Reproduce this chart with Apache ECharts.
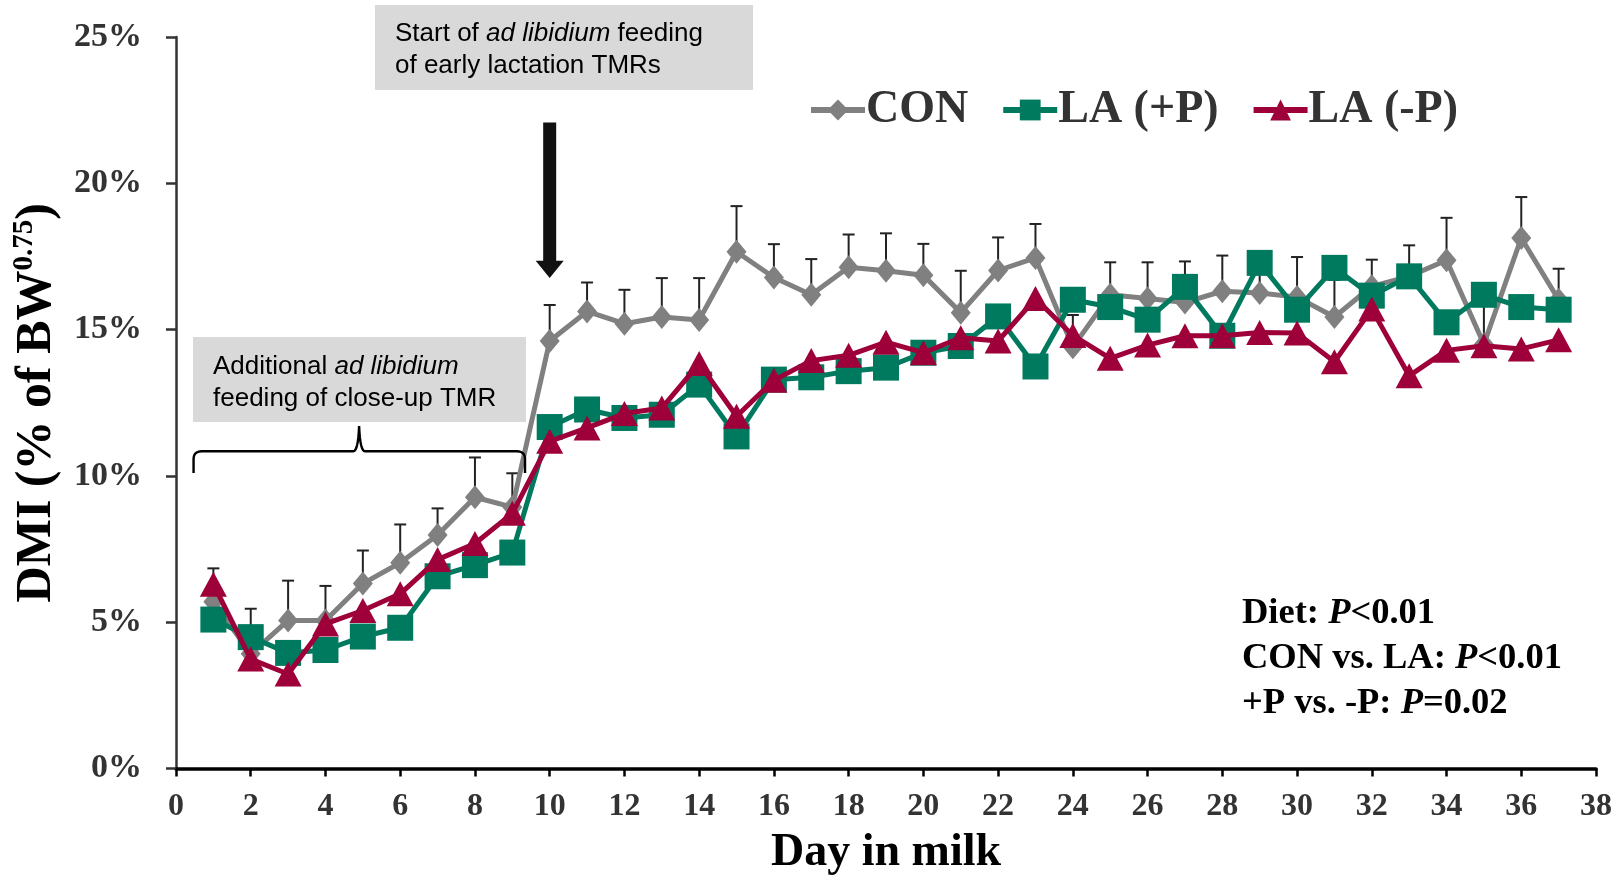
<!DOCTYPE html>
<html>
<head>
<meta charset="utf-8">
<script src="https://cdn.jsdelivr.net/npm/echarts@6/dist/echarts.min.js"></script>
<style>
  html, body { margin: 0; padding: 0; background: #fff; }
  #chart { width: 1624px; height: 877px; }
</style>
</head>
<body>
<div id="chart"></div>
<script>
// Day in milk
const days = [1, 2, 3, 4, 5, 6, 7, 8, 9, 10, 11, 12, 13, 14, 15, 16, 17, 18, 19,
  20, 21, 22, 23, 24, 25, 26, 27, 28, 29, 30, 31, 32, 33, 34, 35, 36, 37];

// DMI, % of BW^0.75
const conMean = [5.70, 3.92, 5.06, 5.06, 6.32, 7.03, 7.98, 9.27, 8.93, 14.61, 15.62, 15.20, 15.43,
  15.33, 17.66, 16.78, 16.19, 17.13, 17.01, 16.86, 15.58, 17.02, 17.45, 14.40, 16.19, 16.06,
  15.93, 16.31, 16.25, 16.11, 15.43, 16.48, 16.82, 17.37, 14.50, 18.13, 16.02];
const conSE = [1.14, 1.54, 1.36, 1.18, 1.13, 1.31, 0.91, 1.36, 1.16, 1.23, 0.99, 1.16, 1.33,
  1.43, 1.56, 1.14, 1.22, 1.12, 1.28, 1.07, 1.43, 1.13, 1.16, 1.10, 1.11, 1.24,
  1.40, 1.22, 1.05, 1.37, 1.27, 0.91, 1.06, 1.45, 1.50, 1.40, 1.06];
const laPlusP = [5.09, 4.49, 3.95, 4.05, 4.51, 4.81, 6.57, 6.95, 7.38, 11.67, 12.27, 11.98, 12.09,
  13.12, 11.35, 13.29, 13.37, 13.58, 13.70, 14.21, 14.44, 15.45, 13.74, 16.02, 15.77, 15.34,
  16.46, 14.79, 17.28, 15.68, 17.11, 16.16, 16.82, 15.25, 16.19, 15.77, 15.68];
const laMinusP = [6.30, 3.74, 3.23, 4.94, 5.40, 5.97, 7.14, 7.69, 8.72, 11.18, 11.64, 12.13, 12.32,
  13.84, 12.04, 13.27, 13.94, 14.12, 14.57, 14.21, 14.72, 14.61, 16.06, 14.80, 14.02, 14.47,
  14.79, 14.79, 14.90, 14.88, 13.90, 15.70, 13.42, 14.29, 14.45, 14.34, 14.65];

const seriesNames = ['CON', 'LA (+P)', 'LA (-P)'];
const statLines = [
  ['Diet: ', 'P', '<0.01'],
  ['CON vs. LA: ', 'P', '<0.01'],
  ['+P vs. -P: ', 'P', '=0.02']
];

const SERIF = '"Liberation Serif", "Times New Roman", serif';
const SANS = '"Liberation Sans", Arial, sans-serif';
const C_GRAY = '#808080', C_GREEN = '#007A5E', C_RED = '#9E0039';

const pairs = arr => days.map((d, i) => [d, arr[i]]);

const chart = echarts.init(document.getElementById('chart'));

const option = {
  animation: false,
  backgroundColor: '#fff',
  grid: { left: 176, right: 28, top: 37, bottom: 108.5, containLabel: false, outerBoundsMode: 'none' },
  legend: {
    left: 803, top: 82,
    itemWidth: 54, itemHeight: 26, itemGap: 32,
    data: seriesNames,
    lineStyle: { width: 6 },
    textStyle: { fontFamily: SERIF, fontWeight: 'bold', fontSize: 46, color: '#333', padding: [0, 0, 0, -4] }
  },
  xAxis: {
    type: 'value', min: 0, max: 38, interval: 2,
    axisLine: { show: true, onZero: false, lineStyle: { color: '#000', width: 3.5 } },
    axisTick: { show: true, length: 8, lineStyle: { color: '#000', width: 2.5 } },
    axisLabel: { margin: 22, fontFamily: SERIF, fontWeight: 'bold', fontSize: 32, color: '#333' },
    splitLine: { show: false },
    name: 'Day in milk', nameLocation: 'middle', nameGap: 62,
    nameTextStyle: { fontFamily: SERIF, fontWeight: 'bold', fontSize: 46, color: '#000' }
  },
  yAxis: {
    type: 'value', min: 0, max: 25, interval: 5,
    axisLine: { show: true, lineStyle: { color: '#333', width: 2.5 } },
    axisTick: { show: true, length: 10, lineStyle: { color: '#333', width: 2.5 } },
    axisLabel: { margin: 34, formatter: '{value}%', fontFamily: SERIF, fontWeight: 'bold', fontSize: 34, color: '#333' },
    splitLine: { show: false },
    name: '{a|DMI (% of BW}{s|0.75}{a|)}', nameLocation: 'middle', nameGap: 112,
    nameTextStyle: {
      rich: {
        a: { fontFamily: SERIF, fontWeight: 'bold', fontSize: 50, color: '#000', lineHeight: 54 },
        s: { fontFamily: SERIF, fontWeight: 'bold', fontSize: 29, color: '#000', verticalAlign: 'top', lineHeight: 54 }
      }
    }
  },
  series: [
    {
      // upper standard-error bars for the control diet
      type: 'custom', name: 'CON SE', z: 1, silent: true,
      data: days.map((d, i) => [d, conMean[i], conMean[i] + conSE[i]]),
      renderItem: (params, api) => {
        const base = api.coord([api.value(0), api.value(1)]);
        const top = api.coord([api.value(0), api.value(2)]);
        const cap = 6;
        const style = { stroke: '#222', lineWidth: 2 };
        return {
          type: 'group',
          children: [
            { type: 'line', shape: { x1: base[0], y1: base[1], x2: top[0], y2: top[1] }, style },
            { type: 'line', shape: { x1: top[0] - cap, y1: top[1], x2: top[0] + cap, y2: top[1] }, style }
          ]
        };
      }
    },
    {
      name: 'CON', type: 'line', z: 2, data: pairs(conMean),
      symbol: 'diamond', symbolSize: [20, 24],
      itemStyle: { color: C_GRAY },
      lineStyle: { color: C_GRAY, width: 5 }
    },
    {
      name: 'LA (+P)', type: 'line', z: 3, data: pairs(laPlusP),
      symbol: 'rect', symbolSize: 26,
      itemStyle: { color: C_GREEN },
      lineStyle: { color: C_GREEN, width: 5 }
    },
    {
      name: 'LA (-P)', type: 'line', z: 4, data: pairs(laMinusP),
      symbol: 'triangle', symbolSize: [27, 25],
      itemStyle: { color: C_RED },
      lineStyle: { color: C_RED, width: 5 }
    }
  ]
};

chart.setOption(option);

// annotations placed through the chart's own coordinate system
const px = (x, y) => chart.convertToPixel({ gridIndex: 0 }, [x, y]);

// arrow marking day 10
const aTop = px(10, 22.08), aNeck = px(10, 17.35), aTip = px(10, 16.76);
const shaftW = 13, headW = 28;
const arrowPts = [
  [aTop[0] - shaftW / 2, aTop[1]], [aTop[0] + shaftW / 2, aTop[1]],
  [aTop[0] + shaftW / 2, aNeck[1]], [aTop[0] + headW / 2, aNeck[1]],
  [aTip[0], aTip[1]],
  [aTop[0] - headW / 2, aNeck[1]], [aTop[0] - shaftW / 2, aNeck[1]]
];

// brace over days 0.5 – 9.3, sampled as a polyline
const bL = px(0.47, 10.1), bR = px(9.34, 10.1), bH = px(4.9, 10.84), bS = px(4.9, 11.7);
const yH = bH[1];
function quad(p0, c, p1, n) {
  const out = [];
  for (let k = 1; k <= n; k++) {
    const t = k / n, u = 1 - t;
    out.push([u * u * p0[0] + 2 * u * t * c[0] + t * t * p1[0], u * u * p0[1] + 2 * u * t * c[1] + t * t * p1[1]]);
  }
  return out;
}
const bracePts = [[bL[0], bL[1]], [bL[0], yH + 8]]
  .concat(quad([bL[0], yH + 8], [bL[0], yH], [bL[0] + 8, yH], 8))
  .concat([[bH[0] - 6, yH]])
  .concat(quad([bH[0] - 6, yH], [bH[0] - 1, yH], [bH[0], bS[1]], 8))
  .concat(quad([bH[0], bS[1]], [bH[0] + 1, yH], [bH[0] + 6, yH], 8))
  .concat([[bR[0] - 8, yH]])
  .concat(quad([bR[0] - 8, yH], [bR[0], yH], [bR[0], yH + 8], 8))
  .concat([[bR[0], bR[1]]]);

const boxRich = {
  n: { fontFamily: SANS, fontSize: 26, color: '#3a3a3a', lineHeight: 32 },
  i: { fontFamily: SANS, fontSize: 26, color: '#3a3a3a', fontStyle: 'italic', lineHeight: 32 }
};
const statRich = {
  b: { fontFamily: SERIF, fontWeight: 'bold', fontSize: 36.5, color: '#333', lineHeight: 45 },
  i: { fontFamily: SERIF, fontWeight: 'bold', fontStyle: 'italic', fontSize: 36.5, color: '#333', lineHeight: 45 }
};

chart.setOption({
  graphic: [
    { type: 'rect', z: 0, shape: { x: 375, y: 5, width: 378, height: 85 }, style: { fill: '#D9D9D9' } },
    {
      type: 'text', z: 1, x: 395, y: 50,
      style: {
        text: '{n|Start of }{i|ad libidium}{n| feeding}\n{n|of early lactation TMRs}',
        rich: boxRich, verticalAlign: 'middle', align: 'left'
      }
    },
    { type: 'rect', z: 0, shape: { x: 193, y: 337, width: 333, height: 85 }, style: { fill: '#D9D9D9' } },
    {
      type: 'text', z: 1, x: 213, y: 383,
      style: {
        text: '{n|Additional }{i|ad libidium}\n{n|feeding of close-up TMR}',
        rich: boxRich, verticalAlign: 'middle', align: 'left'
      }
    },
    { type: 'polygon', z: 5, shape: { points: arrowPts }, style: { fill: '#111' } },
    { type: 'polyline', z: 5, shape: { points: bracePts }, style: { stroke: '#000', lineWidth: 2.4, fill: null } },
    {
      type: 'text', z: 5, x: 1242, y: 659,
      style: {
        text: statLines.map(l => `{b|${l[0]}}{i|${l[1]}}{b|${l[2]}}`).join('\n'),
        rich: statRich, verticalAlign: 'middle', align: 'left'
      }
    }
  ]
});
</script>
</body>
</html>
